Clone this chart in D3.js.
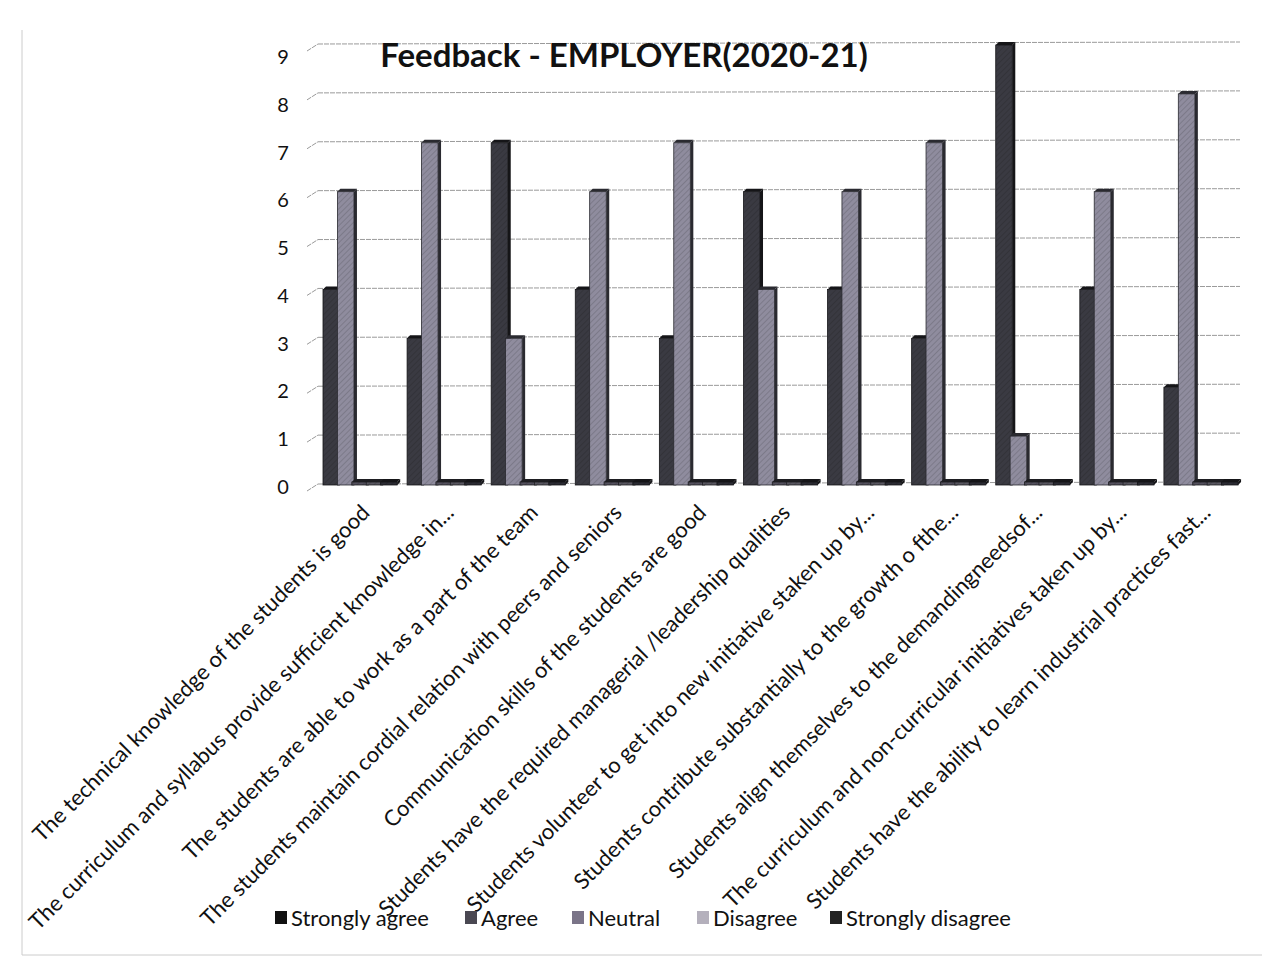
<!DOCTYPE html>
<html>
<head>
<meta charset="utf-8">
<script src="https://d3js.org/d3.v7.min.js"></script>
<style>
  body { margin: 0; background: #fff; }
  svg { font-family: Lato, "Open Sans", sans-serif; }
  .grid line { stroke: #9a9a9a; stroke-width: 1; stroke-dasharray: 5,1; }
  .ylab text { font-size: 20px; fill: #111; }
  .xlab text { font-size: 22px; fill: #111; }
  .legend text { font-size: 22px; fill: #111; }
</style>
</head>
<body>
<div id="chart"></div>
<script>
var categories = [
  "The technical knowledge of the students is good",
  "The curriculum and syllabus provide sufficient knowledge in...",
  "The students are able to work as a part of the team",
  "The students maintain cordial relation with peers and seniors",
  "Communication skills of the students are good",
  "Students have the required managerial /leadership qualities",
  "Students volunteer to get into new initiative staken up by...",
  "Students contribute substantially to the growth o fthe...",
  "Students align themselves to the demandingneedsof...",
  "The curriculum and non-curricular initiatives taken up by...",
  "Students have the ability to learn industrial practices fast..."
];
var seriesNames = ["Strongly agree", "Agree", "Neutral", "Disagree", "Strongly disagree"];
var stronglyAgree    = [4, 3, 7, 4, 3, 6, 4, 3, 9, 4, 2];
var agree            = [6, 7, 3, 6, 7, 4, 6, 7, 1, 6, 8];
var neutral          = [0, 0, 0, 0, 0, 0, 0, 0, 0, 0, 0];
var disagree         = [0, 0, 0, 0, 0, 0, 0, 0, 0, 0, 0];
var stronglyDisagree = [0, 0, 0, 0, 0, 0, 0, 0, 0, 0, 0];
var yTicks = [0, 1, 2, 3, 4, 5, 6, 7, 8, 9];
var title = "Feedback - EMPLOYER(2020-21)";

var seriesValues = [stronglyAgree, agree, neutral, disagree, stronglyDisagree];
var fills = ["#3a3a42", "#8f8c9e", "#55525f", "#5a5862", "#2c2c34"];
var sides = ["#151518", "#2a2a30", "#1e1e22", "#1e1e22", "#151518"];
var legendFills = ["#111", "#4a4852", "#7a7488", "#b4b0bc", "#222"];

var W = 1274, H = 963;
var svg = d3.select("#chart").append("svg")
    .attr("width", W).attr("height", H);

// hatch patterns like the scanned picture
var defs = svg.append("defs");
fills.forEach(function(c, i) {
  var p = defs.append("pattern")
      .attr("id", "hatch" + i)
      .attr("patternUnits", "userSpaceOnUse")
      .attr("width", 4).attr("height", 4)
      .attr("patternTransform", "rotate(45)");
  p.append("rect").attr("width", 4).attr("height", 4).attr("fill", c);
  p.append("line").attr("x1", 0).attr("y1", 0).attr("x2", 0).attr("y2", 4)
      .attr("stroke", d3.color(c).darker(0.7)).attr("stroke-width", 1.2);
});

// photo edge
svg.append("line").attr("x1", 22).attr("y1", 30).attr("x2", 22).attr("y2", 955)
    .attr("stroke", "#ccc").attr("stroke-width", 1);
svg.append("line").attr("x1", 22).attr("y1", 955).attr("x2", 1262).attr("y2", 955)
    .attr("stroke", "#ccc").attr("stroke-width", 1);

var x = d3.scaleBand().domain(categories).range([315, 1240]);
var xs = d3.scaleBand().domain(seriesNames).range([8, 80]);
var y = d3.scaleLinear().domain([0, 9]).range([484, 44]);
var yLab = d3.scaleLinear().domain([0, 9]).range([487, 57]);

// gridlines with little 3D wall stroke at left
var grid = svg.append("g").attr("class", "grid");
grid.selectAll("line.h").data(yTicks).enter().append("line")
    .attr("class", "h")
    .attr("x1", 318).attr("x2", 1240)
    .attr("y1", function(d) { return y(d); })
    .attr("y2", function(d) { return y(d) - 2; });
grid.selectAll("line.w").data(yTicks).enter().append("line")
    .attr("class", "w")
    .attr("x1", 307).attr("x2", 318)
    .attr("y1", function(d) { return y(d) + 7; })
    .attr("y2", function(d) { return y(d); });

// y labels
svg.append("g").attr("class", "ylab")
  .selectAll("text").data(yTicks).enter().append("text")
    .attr("x", 283)
    .attr("y", function(d) { return yLab(d); })
    .attr("dy", "0.35em")
    .attr("text-anchor", "middle")
    .text(function(d) { return d; });

// bars
var depth = 3;
var bw = xs.bandwidth() * 1.15;
var groups = svg.append("g").selectAll("g").data(categories).enter().append("g")
    .attr("transform", function(d) { return "translate(" + x(d) + ",0)"; });

seriesNames.forEach(function(s, si) {
  groups.each(function(c, ci) {
    var g = d3.select(this);
    var v = seriesValues[si][ci];
    var x0 = xs(s);
    var top = y(v) - (v === 0 ? 3 : 0);
    var h = y(0) - top;
    // side
    g.append("path")
      .attr("d", "M" + (x0 + bw) + "," + (top + 1) + "l" + depth + "," + (-depth) +
                 "v" + h + "l" + (-depth) + "," + depth + "z")
      .attr("fill", sides[si]);
    // top
    g.append("path")
      .attr("d", "M" + x0 + "," + (top + 1) + "l" + depth + "," + (-depth) +
                 "h" + bw + "l" + (-depth) + "," + depth + "z")
      .attr("fill", sides[si]);
    // front
    g.append("rect")
      .attr("x", x0).attr("y", top + 1)
      .attr("width", bw).attr("height", h)
      .attr("fill", "url(#hatch" + si + ")")
      .attr("stroke", sides[si]).attr("stroke-width", 0.8);
  });
});

// x labels
svg.append("g").attr("class", "xlab")
  .selectAll("text").data(categories).enter().append("text")
    .attr("transform", function(d) {
      return "translate(" + (x(d) + x.bandwidth() / 2 + 14) + ",514) rotate(-45)";
    })
    .attr("text-anchor", "end")
    .text(function(d) { return d; });

// title
svg.append("text")
    .attr("x", 624).attr("y", 67)
    .attr("text-anchor", "middle")
    .attr("font-size", 33).attr("font-weight", "bold")
    .attr("fill", "#111")
    .text(title);

// legend
var legendX = [275, 465, 572, 697, 830];
var lg = svg.append("g").attr("class", "legend")
  .selectAll("g").data(seriesNames).enter().append("g")
    .attr("transform", function(d, i) { return "translate(" + legendX[i] + ",918)"; });
lg.append("rect").attr("x", 0).attr("y", -7).attr("width", 12).attr("height", 13)
    .attr("fill", function(d, i) { return legendFills[i]; });
lg.append("text").attr("x", 16).attr("y", 0).attr("dy", "0.35em")
    .text(function(d) { return d; });
</script>
</body>
</html>
